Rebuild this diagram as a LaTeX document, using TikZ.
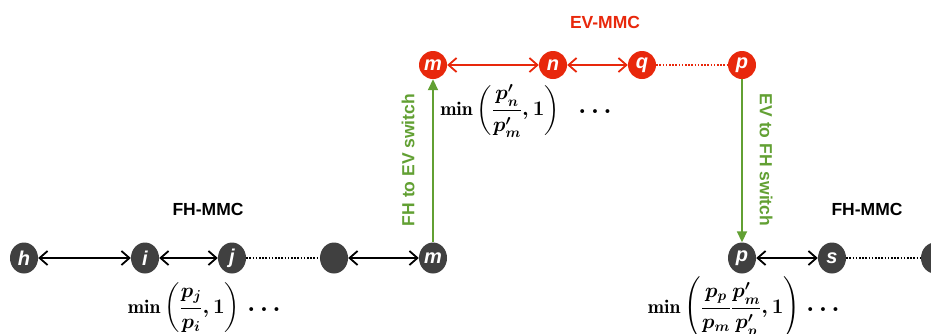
\documentclass[tikz,border=0pt]{standalone}
\usepackage{fontspec}
\setsansfont{Liberation Sans}
\usepackage{amsmath}
\usetikzlibrary{arrows.meta,shapes.geometric}
\definecolor{fhgray}{HTML}{404040}
\definecolor{evred}{HTML}{E8280C}
\definecolor{swgreen}{HTML}{62A033}

\begin{document}
\begin{tikzpicture}[x=1pt,y=-1pt,
  fhnode/.style={ellipse,fill=fhgray,minimum width=28pt,minimum height=31pt,inner sep=0pt,
    text=white,font=\sffamily\bfseries\itshape\fontsize{20}{20}\selectfont},
  evnode/.style={fhnode,fill=evred,minimum height=28pt},
  duplex/.style={line width=1.8pt,{Straight Barb[length=8pt,width=14pt]}-{Straight Barb[length=8pt,width=14pt]}},
  dotlink/.style={line width=1.6pt,dash pattern=on 1.6pt off 1.6pt},
  swarrow/.style={swgreen,line width=1.8pt,-{Triangle[length=11pt,width=10pt]}},
  mmctitle/.style={font=\sffamily\bfseries\fontsize{17.5}{17.5}\selectfont},
  swlabel/.style={mmctitle,text=swgreen},
  prob/.style={font=\boldmath\fontsize{19.5}{22}\selectfont,inner sep=1pt},
  more/.style={font=\boldmath\fontsize{30}{30}\selectfont}]
  \useasboundingbox (0,0) rectangle (931,333);

  % FH-MMC chain, left
  \node[fhnode] (h) at (24,258) {h};
  \node[fhnode] (i) at (145,258) {i};
  \node[fhnode] (j) at (232,258) {j};
  \node[fhnode] (k) at (334,258) {};
  \node[fhnode] (m1) at (433,258) {m};
  % FH-MMC chain, right
  \node[fhnode] (p1) at (742,258) {p};
  \node[fhnode] (s) at (832,258) {s};
  \node[fhnode] (t) at (935,258) {};
  % EV-MMC chain
  \node[evnode] (m2) at (433,65) {m};
  \node[evnode] (n) at (553,65) {n};
  \node[evnode] (q) at (642,65) {q};
  \node[evnode] (p2) at (742,65) {p};

  \node[mmctitle] (fhl) at (208,209) {FH-MMC};
  \node[mmctitle] (fhr) at (867,209) {FH-MMC};
  \node[mmctitle,text=evred] (ev) at (605,22) {EV-MMC};

  \draw[duplex] (h) -- (i);
  \draw[duplex] (i) -- (j);
  \draw[dotlink] (j) -- (k);
  \draw[duplex] (k) -- (m1);
  \draw[duplex] (p1) -- (s);
  \draw[dotlink] (s) -- (t);
  \draw[duplex,evred] (m2) -- (n);
  \draw[duplex,evred] (n) -- (q);
  \draw[dotlink,evred] (q) -- (p2);

  % switches between the chains
  \draw[swarrow] (m1) -- (m2);
  \draw[swarrow] (p2) -- (p1);
  \node[swlabel,rotate=90] (fhev) at (408,160) {FH to EV switch};
  \node[swlabel,rotate=-90] (evfh) at (766,160) {EV to FH switch};

  % acceptance probabilities
  \node[prob] (aij) at (184,308) {$\displaystyle\min\left(\frac{p_j}{p_i},1\right)$};
  \node[more] (dl) at (264,310) {$\ldots$};
  \node[prob] (amn) at (500,111) {$\displaystyle\min\left(\frac{p'_n}{p'_m},1\right)$};
  \node[more] (dt) at (595,112) {$\ldots$};
  \node[prob] (amp) at (724,308) {$\displaystyle\min\left(\frac{p_p}{p_m}\frac{p'_m}{p'_p},1\right)$};
  \node[more] (dr) at (823,310) {$\ldots$};
\end{tikzpicture}
\end{document}
